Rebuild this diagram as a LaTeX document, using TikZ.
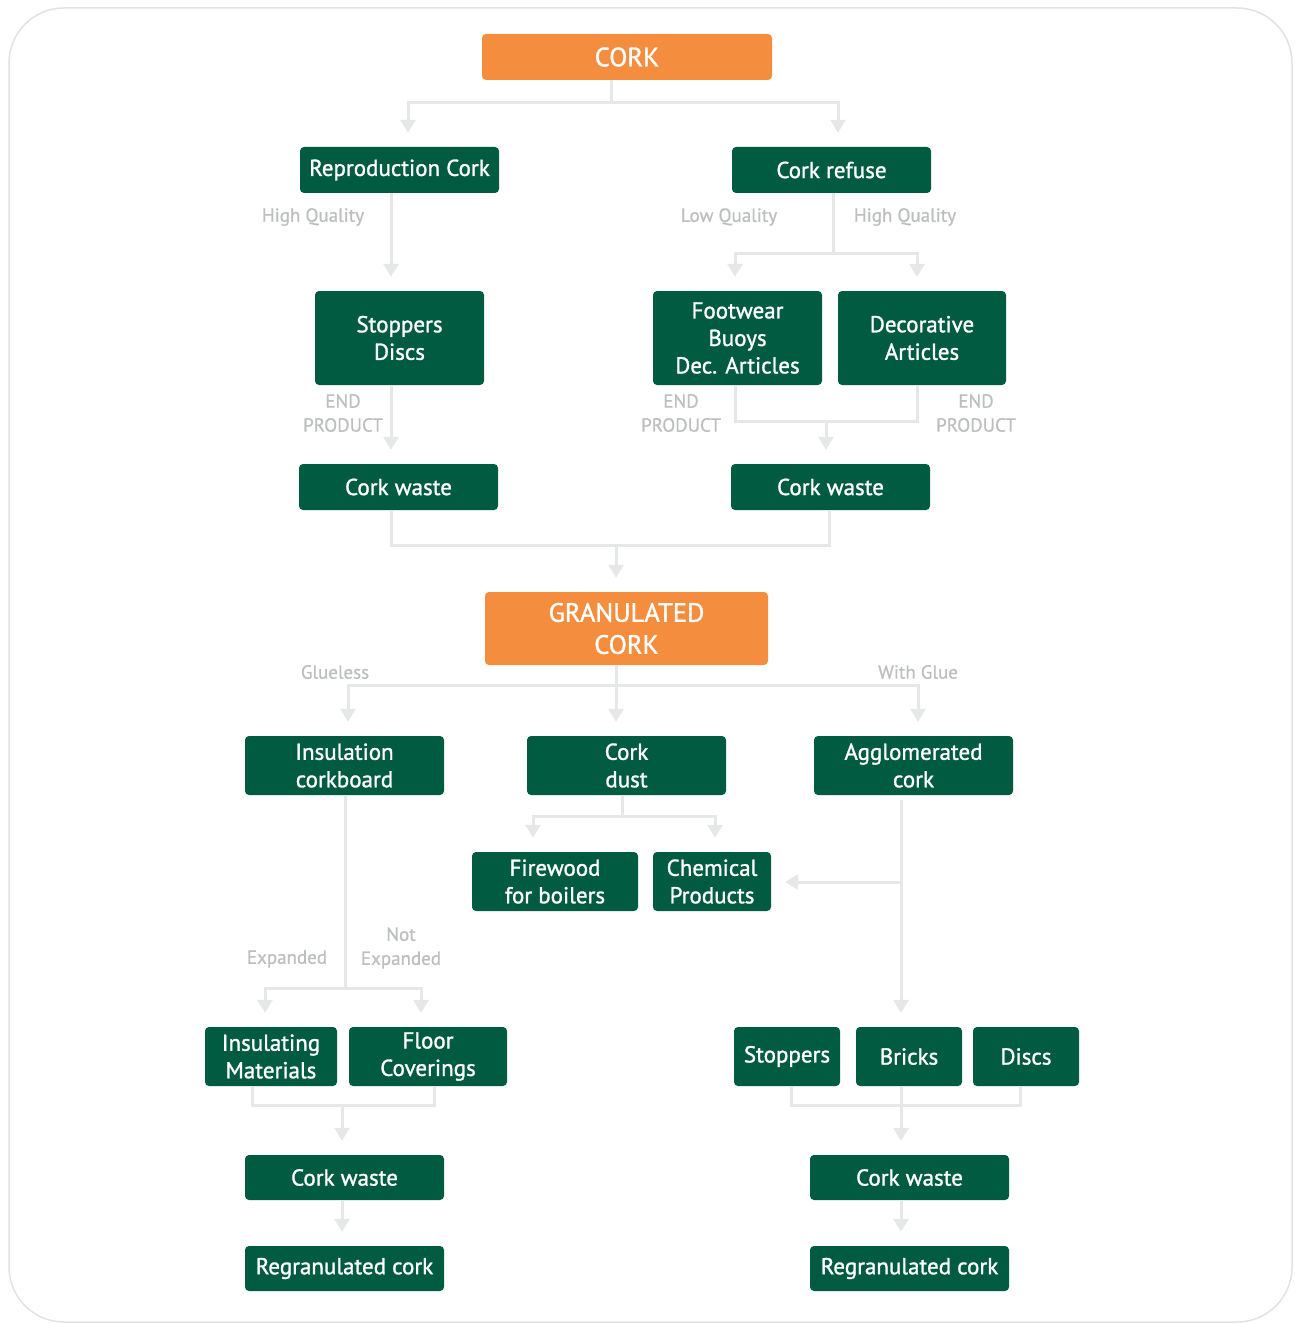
\documentclass[tikz,border=0pt]{standalone}
\usepackage{fontspec}
\setmainfont{PT Sans}
\newfontfamily\boxfont{PT Sans}[FakeBold=1.3]
\newfontfamily\lblfont{PT Sans}[FakeBold=0.8]
\usetikzlibrary{arrows.meta,calc}
\definecolor{corkorange}{HTML}{F58D3E}
\definecolor{corkgreen}{HTML}{005B41}
\definecolor{connc}{HTML}{E6E7E8}
\definecolor{labc}{HTML}{BCBEC0}
\definecolor{framec}{HTML}{E2E2E2}
\begin{document}
\begin{tikzpicture}[x=1pt,y=-1pt,
 box/.style={fill=corkgreen, text=white, rounded corners=4pt, inner sep=0pt, align=center, font=\boxfont\fontsize{23}{27.5}\selectfont},
 obox/.style={fill=corkorange, text=white, rounded corners=4pt, inner sep=0pt, align=center, font=\boxfont\fontsize{26.5}{32}\selectfont},
 cline/.style={draw=connc, line width=3pt},
 carr/.style={cline, -{Triangle[width=15pt,length=13pt]}, shorten >=14pt},
 lbl/.style={text=labc, font=\lblfont\fontsize{19}{24}\selectfont, align=center, inner sep=0pt}
]
\useasboundingbox (0,0) rectangle (1294,1324);
\draw[framec, line width=1.5pt, rounded corners=55pt] (9,8) rectangle (1292,1322);

% nodes
\node[obox, minimum width=290pt, minimum height=46pt] (cork) at (627,57) {CORK};
\node[box, minimum width=199pt, minimum height=46pt] (repro) at (399.5,170) {Reproduction Cork};
\node[box, minimum width=199pt, minimum height=46pt] (refuse) at (831.5,170) {Cork refuse};
\node[box, minimum width=169pt, minimum height=94pt] (stdisc) at (399.5,338) {Stoppers\\Discs};
\node[box, minimum width=169pt, minimum height=94pt] (foot) at (737.5,338) {Footwear\\Buoys\\Dec. Articles};
\node[box, minimum width=168pt, minimum height=94pt] (deco) at (922,338) {Decorative\\Articles};
\node[box, minimum width=199pt, minimum height=46pt] (wasteL) at (398.5,487) {Cork waste};
\node[box, minimum width=199pt, minimum height=46pt] (wasteR) at (830.5,487) {Cork waste};
\node[obox, minimum width=283pt, minimum height=73pt] (gran) at (626.5,628.5) {GRANULATED\\CORK};
\node[box, minimum width=199pt, minimum height=59pt] (insul) at (344.5,765.5) {Insulation\\corkboard};
\node[box, minimum width=199pt, minimum height=59pt] (dust) at (626.5,765.5) {Cork\\dust};
\node[box, minimum width=199pt, minimum height=59pt] (agglo) at (913.5,765.5) {Agglomerated\\cork};
\node[box, minimum width=166pt, minimum height=59pt] (fire) at (555,881.5) {Firewood\\for boilers};
\node[box, minimum width=118pt, minimum height=59pt] (chem) at (712,881.5) {Chemical\\Products};
\node[box, minimum width=132pt, minimum height=59pt] (insmat) at (271,1056.5) {Insulating\\Materials};
\node[box, minimum width=158pt, minimum height=59pt] (floor) at (428,1056.5) {Floor\\Coverings};
\node[box, minimum width=106pt, minimum height=59pt] (stop) at (787,1056.5) {Stoppers};
\node[box, minimum width=106pt, minimum height=59pt] (bricks) at (909,1056.5) {Bricks};
\node[box, minimum width=106pt, minimum height=59pt] (discs) at (1026,1056.5) {Discs};
\node[box, minimum width=199pt, minimum height=45pt] (wasteLL) at (344.5,1177.5) {Cork waste};
\node[box, minimum width=199pt, minimum height=45pt] (regL) at (344.5,1268.5) {Regranulated cork};
\node[box, minimum width=199pt, minimum height=45pt] (wasteRR) at (909.5,1177.5) {Cork waste};
\node[box, minimum width=199pt, minimum height=45pt] (regR) at (909.5,1268.5) {Regranulated cork};

% labels
\node[lbl] (l1) at (313,217) {High Quality};
\node[lbl] (l2) at (729,217) {Low Quality};
\node[lbl] (l3) at (905,217) {High Quality};
\node[lbl] (l4) at (343,413) {END\\PRODUCT};
\node[lbl] (l5) at (681,413) {END\\PRODUCT};
\node[lbl] (l6) at (976,413) {END\\PRODUCT};
\node[lbl] (l7) at (335,672) {Glueless};
\node[lbl] (l8) at (918,672) {With Glue};
\node[lbl] (l9) at (287,959) {Expanded};
\node[lbl] (l10) at (401,948) {Not\\Expanded};

% junctions
\coordinate (j1) at (611,103);
\coordinate (j2) at (833,254);
\coordinate (j3) at (826,421);
\coordinate (j4) at (616,545);
\coordinate (j5) at (616,685);
\coordinate (j6) at (622,816);
\coordinate (j7) at (901,882);
\coordinate (j8) at (345,988);
\coordinate (j9) at (342,1105);
\coordinate (j10) at (901,1105);

% connectors
\draw[cline] (j1 |- cork.south) -- (j1);
\draw[carr] (j1) -| ([xshift=8.5]repro.north);
\draw[carr] (j1) -| ([xshift=6.5]refuse.north);

\draw[carr] ([xshift=-8.5]repro.south) -- ([xshift=-8.5]repro.south |- stdisc.north);

\draw[cline] (j2 |- refuse.south) -- (j2);
\draw[carr] (j2) -| ([xshift=-2.5]foot.north);
\draw[carr] (j2) -| ([xshift=-5]deco.north);

\draw[carr] ([xshift=-8.5]stdisc.south) -- ([xshift=-8.5]stdisc.south |- wasteL.north);

\draw[cline] ([xshift=-2.5]foot.south) |- (j3) -| ([xshift=-5]deco.south);
\draw[carr] (j3) -- (j3 |- wasteR.north);

\draw[cline] ([xshift=-7.5]wasteL.south) |- (j4) -| ([xshift=-1.5]wasteR.south);
\draw[carr] (j4) -- (j4 |- gran.north);

\draw[cline] (j5 |- gran.south) -- (j5);
\draw[carr] (j5) -| ([xshift=3.5]insul.north);
\draw[carr] (j5) -- (j5 |- dust.north);
\draw[carr] (j5) -| ([xshift=4.5]agglo.north);

\draw[cline] (j6 |- dust.south) -- (j6);
\draw[carr] (j6) -| ([xshift=-22]fire.north);
\draw[carr] (j6) -| ([xshift=3]chem.north);

\draw[carr] ([xshift=-12.5,yshift=-5]agglo.south) -- ([xshift=-12.5]agglo.south |- bricks.north);
\draw[carr] (j7) -- (j7 -| chem.east);

\draw[cline] ([xshift=0.5]insul.south) -- (j8);
\draw[carr] (j8) -| ([xshift=-6]insmat.north);
\draw[carr] (j8) -| ([xshift=-7]floor.north);

\draw[cline] ([xshift=-19]insmat.south) |- (j9) -| ([xshift=6]floor.south);
\draw[carr] (j9) -- (j9 |- wasteLL.north);

\draw[cline] ([xshift=4]stop.south) |- (j10) -| ([xshift=-6]discs.south);
\draw[carr] ([xshift=-8]bricks.south) -- ([xshift=-8]bricks.south |- wasteRR.north);

\draw[carr] ([xshift=-2.5]wasteLL.south) -- ([xshift=-2.5]wasteLL.south |- regL.north);
\draw[carr] ([xshift=-8.5]wasteRR.south) -- ([xshift=-8.5]wasteRR.south |- regR.north);
\end{tikzpicture}
\end{document}
